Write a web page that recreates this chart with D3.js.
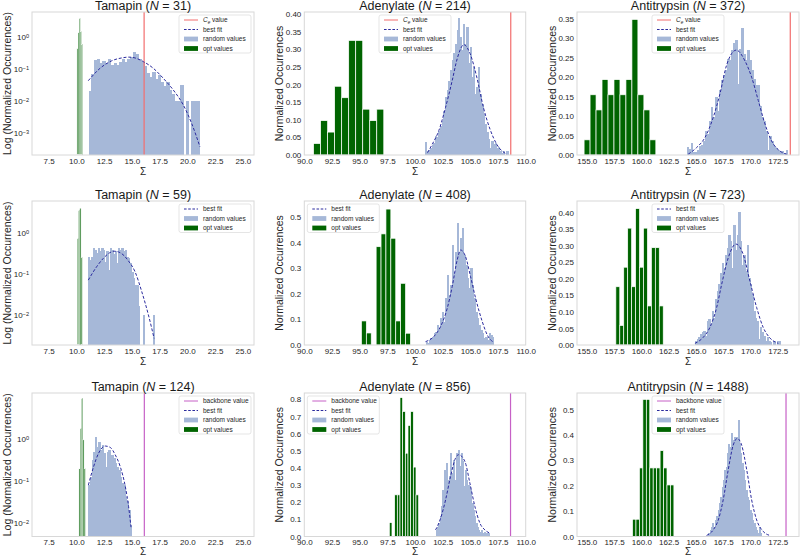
<!DOCTYPE html>
<html>
<head>
<meta charset="utf-8">
<script src="https://cdn.jsdelivr.net/npm/d3@7"></script>
<style>
  body { margin: 0; background: #fff; }
  svg { font-family: "Liberation Sans", Arial, sans-serif; }
</style>
</head>
<body>
<div id="chart"></div>
<script>
// ---- data ----
const proteins = ["Tamapin", "Adenylate", "Antitrypsin"];
const sampleN = [[31, 214, 372], [59, 408, 723], [124, 856, 1488]];

const xLimits = [[6, 26], [90, 110], [154.1, 174.45]];
const xTickVals = [
  [7.5, 10, 12.5, 15, 17.5, 20, 22.5, 25],
  [90, 92.5, 95, 97.5, 100, 102.5, 105, 107.5, 110],
  [155, 157.5, 160, 162.5, 165, 167.5, 170, 172.5]
];
const yLimits = [
  [[2.05e-4, 6.04], [0, 0.4057], [0, 0.368]],
  [[1.86e-3, 6.03], [0, 0.5625], [0, 0.435]],
  [[4.8e-3, 12.4], [0, 0.837], [0, 0.565]]
];
const yTickVals = [
  [[1, 0.1, 0.01, 0.001], [0, 0.05, 0.1, 0.15, 0.2, 0.25, 0.3, 0.35, 0.4], [0, 0.05, 0.1, 0.15, 0.2, 0.25, 0.3, 0.35]],
  [[1, 0.1, 0.01], [0, 0.1, 0.2, 0.3, 0.4, 0.5], [0, 0.05, 0.1, 0.15, 0.2, 0.25, 0.3, 0.35, 0.4]],
  [[1, 0.1, 0.01], [0, 0.1, 0.2, 0.3, 0.4, 0.5, 0.6, 0.7, 0.8], [0, 0.1, 0.2, 0.3, 0.4, 0.5]]
];
const yTickFmt = [[null, ".2f", ".2f"], [null, ".1f", ".2f"], [null, ".1f", ".1f"]];

// vertical reference values (row 1: C_e, row 3: backbone)
const ceValues = [16.1, 108.65, 173.65];
const backboneValues = [16.12, 108.63, 173.26];

// histograms: [first bin edge, bin width] + normalized heights
const tam31OptBin = [10.05, 0.1];
const tam31Opt = [0.45, 1.4, 3.9, 1.5, 0.6];
const tam31RandBin = [11.1, 0.25];
const tam31Rand = [0.021, 0.07, 0.19, 0.2, 0.15, 0.18, 0.15, 0.2, 0.13, 0.15, 0.13, 0.17, 0.2, 0.17, 0.2, 0.23, 0.34, 0.29, 0.21, 0.17,
  0.12, 0.075, 0.055, 0.08, 0.05, 0.065, 0.04, 0.03, 0.04, 0.022, 0.017, 0.01, 0.01, 0.032, 0, 0.01, 0, 0.01, 0.01, 0.01];
const tam31FitX = [11.07, 12.13, 13.18, 14.2, 14.7, 15.2, 16.03, 16.93, 17.83, 18.73, 19.63, 20.38, 21.13];
const tam31FitY = [0.043, 0.105, 0.18, 0.225, 0.235, 0.225, 0.17, 0.105, 0.051, 0.022, 0.0075, 0.002, 0.00037];

const ade214OptBin = [90.84, 0.634];
const ade214Opt = [0.0325, 0.0975, 0.065, 0.195, 0.1625, 0.325, 0.325, 0.13, 0.0975, 0.13];
const ade214RandBin = [100.9, 0.15];
const ade214Rand = [0.038, 0.01, 0.015, 0.02, 0.028, 0.033, 0.054, 0.05, 0.069, 0.083, 0.097, 0.126, 0.164, 0.183, 0.211, 0.24, 0.269, 0.288, 0.316, 0.354,
  0.388, 0.335, 0.297, 0.373, 0.316, 0.364, 0.26, 0.307, 0.221, 0.25, 0.173, 0.192, 0.25, 0.173, 0.145, 0.116, 0.088, 0.064, 0.045, 0.02,
  0.04, 0.03, 0.033, 0.02, 0.024, 0.01, 0.005, 0.01, 0, 0.01];
const ade214FitX = [101.13, 101.55, 102.15, 102.76, 103.36, 103.81, 104.42, 104.97, 105.58, 106.18, 106.78, 107.39, 108.3];
const ade214FitY = [0.0066, 0.03, 0.069, 0.135, 0.211, 0.273, 0.313, 0.288, 0.221, 0.135, 0.073, 0.03, 0.002];

const ant372OptBin = [154.75, 0.548];
const ant372Opt = [0.039, 0.155, 0.116, 0.194, 0.155, 0.194, 0.155, 0.194, 0.349, 0.155, 0.116, 0.039];
const ant372RandBin = [164.15, 0.185];
const ant372Rand = [0.021, 0.015, 0.032, 0.007, 0.007, 0.013, 0.023, 0.027, 0.036, 0.062, 0.054, 0.088, 0.123, 0.097, 0.149, 0.114, 0.166, 0.192, 0.205, 0.218,
  0.248, 0.244, 0.27, 0.287, 0.296, 0.183, 0.274, 0.326, 0.261, 0.244, 0.27, 0.244, 0.218, 0.196, 0.179, 0.179, 0.127, 0.097, 0.088, 0.062,
  0.013, 0.049, 0.036, 0.023, 0.019, 0.013, 0.009, 0.01, 0.004, 0.013];
const ant372FitX = [164.29, 165.06, 165.83, 166.59, 167.2, 167.82, 168.7, 169.5, 170.11, 170.72, 171.33, 171.94, 172.71, 173.32];
const ant372FitY = [0.002, 0.019, 0.045, 0.097, 0.157, 0.232, 0.27, 0.242, 0.2, 0.14, 0.08, 0.036, 0.01, 0.002];

const tam59OptBin = [10.08, 0.113];
const tam59Opt = [0.74, 3.6, 4.0, 0.26];
const tam59RandBin = [11.05, 0.15];
const tam59Rand = [0.26, 0.22, 0.26, 0.42, 0.39, 0.33, 0.42, 0.36, 0.42, 0.39, 0.2, 0.36, 0.125, 0.42, 0.39, 0.3, 0.36, 0.19, 0.42, 0.39,
  0.42, 0.36, 0.39, 0.26, 0.24, 0.19, 0.114, 0.079, 0.054, 0.054, 0.017, 0, 0, 0.01, 0, 0, 0, 0, 0, 0.01];
const tam59FitX = [11.07, 11.82, 12.42, 13.0, 13.4, 13.8, 14.3, 14.68, 15.28, 15.89, 16.49, 17.0];
const tam59FitY = [0.071, 0.15, 0.24, 0.33, 0.36, 0.345, 0.28, 0.21, 0.114, 0.037, 0.01, 0.0027];

const ade408OptBin = [95.16, 0.443];
const ade408Opt = [0.094, 0.047, 0, 0.384, 0.434, 0.531, 0.417, 0.094, 0.241, 0.046];
const ade408RandBin = [100.95, 0.15];
const ade408Rand = [0.013, 0.007, 0.02, 0.026, 0.033, 0.046, 0.052, 0.078, 0.065, 0.104, 0.13, 0.091, 0.182, 0.273, 0.195, 0.234, 0.39, 0.286, 0.365, 0.475,
  0.365, 0.417, 0.456, 0.352, 0.313, 0.26, 0.221, 0.3, 0.234, 0.182, 0.13, 0.104, 0.078, 0.059, 0.046, 0.026, 0.033, 0.02, 0.046, 0.039, 0.033];
const ade408FitX = [100.95, 101.7, 102.31, 102.91, 103.36, 103.81, 104.12, 104.57, 105.02, 105.48, 106.08, 106.53, 107.13];
const ade408FitY = [0.013, 0.033, 0.072, 0.143, 0.228, 0.332, 0.371, 0.345, 0.267, 0.182, 0.091, 0.039, 0.01];

const ant723OptBin = [157.66, 0.362];
const ant723Opt = [0.176, 0.059, 0.235, 0.353, 0.176, 0.412, 0.235, 0.353, 0.118, 0.294, 0.294, 0.118];
const ant723RandBin = [164.91, 0.153];
const ant723Rand = [0.013, 0.018, 0.023, 0.033, 0.038, 0.043, 0.028, 0.073, 0.078, 0.063, 0.103, 0.083, 0.138, 0.163, 0.183, 0.218, 0.248, 0.233, 0.273, 0.293,
  0.333, 0.313, 0.233, 0.363, 0.288, 0.333, 0.403, 0.313, 0.243, 0.273, 0.223, 0.303, 0.203, 0.183, 0.153, 0.103, 0.083, 0.073, 0.018, 0.053,
  0.038, 0.028, 0.013, 0.023, 0.013, 0.008, 0, 0.013, 0, 0.013, 0.013];
const ant723FitX = [164.91, 165.67, 166.28, 166.9, 167.36, 167.96, 168.67, 169.34, 169.95, 170.57, 171.17, 171.79, 172.55];
const ant723FitY = [0.005, 0.023, 0.053, 0.113, 0.183, 0.263, 0.305, 0.273, 0.193, 0.113, 0.053, 0.021, 0.005];

const tam124OptBin = [10.23, 0.115];
const tam124Opt = [0.2, 1.8, 9.3, 0.95, 0.2];
const tam124RandBin = [11.08, 0.15];
const tam124Rand = [0.08, 0.127, 0.32, 0.5, 1.1, 0.66, 0.86, 0.55, 0.7, 0.46, 0.22, 0.5, 0.55, 0.42, 0.42, 0.35, 0.27, 0.22, 0.18, 0.127,
  0.088, 0.08, 0.042, 0.033, 0.02, 0.009];
const tam124FitX = [11.08, 11.55, 12.0, 12.6, 13.05, 13.5, 13.95, 14.41, 14.7, 14.92];
const tam124FitY = [0.08, 0.22, 0.46, 0.68, 0.63, 0.42, 0.22, 0.073, 0.025, 0.008];

const ade856OptBin = [97.68, 0.241];
const ade856Opt = [0.081, 0, 0.243, 0.243, 0.81, 0.729, 0.486, 0.648, 0.729, 0.405, 0.243];
const ade856RandBin = [101.86, 0.1205];
const ade856Rand = [0.038, 0.058, 0.077, 0.117, 0.175, 0.272, 0.389, 0.311, 0.428, 0.33, 0.35, 0.487, 0.37, 0.448, 0.33, 0.487, 0.467, 0.506, 0.409, 0.487,
  0.438, 0.292, 0.389, 0.33, 0.3, 0.292, 0.272, 0.195, 0.156, 0.117, 0.077, 0.058, 0.038, 0.029, 0.038, 0.019, 0.029, 0.019, 0.019, 0.023];
const ade856FitX = [101.86, 102.31, 102.76, 103.21, 103.66, 103.95, 104.51, 104.96, 105.41, 105.87, 106.32, 106.77];
const ade856FitY = [0.038, 0.106, 0.213, 0.35, 0.457, 0.477, 0.437, 0.311, 0.175, 0.077, 0.038, 0.019];

const ant1488OptBin = [159.19, 0.316];
const ant1488Opt = [0.068, 0.068, 0.27, 0.54, 0.54, 0.27, 0.27, 0.27, 0.338, 0.27, 0.203, 0.203];
const ant1488RandBin = [166.13, 0.1225];
const ant1488Rand = [0.013, 0.026, 0.039, 0.052, 0.039, 0.065, 0.079, 0.105, 0.131, 0.157, 0.196, 0.222, 0.262, 0.275, 0.327, 0.366, 0.353, 0.406, 0.379, 0.393,
  0.366, 0.393, 0.458, 0.366, 0.327, 0.288, 0.262, 0.222, 0.183, 0.157, 0.144, 0.105, 0.092, 0.065, 0.052, 0.039, 0.026, 0.013, 0.039, 0.013];
const ant1488FitX = [165.98, 166.59, 167.05, 167.5, 167.96, 168.42, 168.79, 169.19, 169.66, 170.11, 170.57, 171.17, 171.79];
const ant1488FitY = [0.004, 0.026, 0.065, 0.144, 0.262, 0.36, 0.386, 0.36, 0.262, 0.144, 0.065, 0.02, 0.004];

// ---- layout / style ----
const W = 800, H = 556;
const colLeft = [32, 304.3, 577], colWidth = [222, 221.4, 222];
const rowTop = [12, 201, 393], rowHeight = [143, 144, 143.5];
const sigmaOffset = [20, 20, 18];
const legendPos = [["ur", "uc", "uc"], ["ur", "ul", "uc"], ["ur", "ul", "uc"]];

const RAND = "#a6b8d8", OPT = "#006400", FIT = "#2b2b9e";
const CE_COLOR = "#f26d6d", BB_COLOR = "#c661c6";
const TXT = "#262626";

const histSets = [
  [[tam31OptBin, tam31Opt, tam31RandBin, tam31Rand, tam31FitX, tam31FitY],
   [ade214OptBin, ade214Opt, ade214RandBin, ade214Rand, ade214FitX, ade214FitY],
   [ant372OptBin, ant372Opt, ant372RandBin, ant372Rand, ant372FitX, ant372FitY]],
  [[tam59OptBin, tam59Opt, tam59RandBin, tam59Rand, tam59FitX, tam59FitY],
   [ade408OptBin, ade408Opt, ade408RandBin, ade408Rand, ade408FitX, ade408FitY],
   [ant723OptBin, ant723Opt, ant723RandBin, ant723Rand, ant723FitX, ant723FitY]],
  [[tam124OptBin, tam124Opt, tam124RandBin, tam124Rand, tam124FitX, tam124FitY],
   [ade856OptBin, ade856Opt, ade856RandBin, ade856Rand, ade856FitX, ade856FitY],
   [ant1488OptBin, ant1488Opt, ant1488RandBin, ant1488Rand, ant1488FitX, ant1488FitY]]
];

const svg = d3.select("#chart").append("svg")
  .attr("width", W).attr("height", H);

function toBins(spec, vals) {
  return vals.map((v, i) => ({ x0: spec[0] + i * spec[1], x1: spec[0] + (i + 1) * spec[1], v }))
    .filter(d => d.v > 0);
}

for (let r = 0; r < 3; r++) {
  for (let c = 0; c < 3; c++) {
    const [optBin, opt, randBin, rand, fitX, fitY] = histSets[r][c];
    const isLog = c === 0;
    const w = colWidth[c], h = rowHeight[r];
    const g = svg.append("g").attr("transform", `translate(${colLeft[c]},${rowTop[r]})`);

    const x = d3.scaleLinear().domain(xLimits[c]).range([0, w]);
    const y = (isLog ? d3.scaleLog() : d3.scaleLinear()).domain(yLimits[r][c]).range([h, 0]);

    const clipId = `clip-${r}-${c}`;
    g.append("clipPath").attr("id", clipId)
      .append("rect").attr("width", w).attr("height", h);
    const plot = g.append("g").attr("clip-path", `url(#${clipId})`);

    // random values
    plot.selectAll(".rand").data(toBins(randBin, rand)).join("rect")
      .attr("class", "rand")
      .attr("x", d => x(d.x0))
      .attr("width", d => x(d.x1) - x(d.x0) + 0.6)
      .attr("y", d => y(d.v))
      .attr("height", d => h - y(d.v))
      .attr("fill", RAND)
      .attr("shape-rendering", "crispEdges");

    // opt values
    plot.selectAll(".opt").data(toBins(optBin, opt)).join("rect")
      .attr("class", "opt")
      .attr("x", d => x(d.x0))
      .attr("width", d => x(d.x1) - x(d.x0))
      .attr("y", d => y(d.v))
      .attr("height", d => h - y(d.v))
      .attr("fill", isLog ? "#2f7f2f" : OPT)
      .attr("fill-opacity", isLog ? 0.85 : 1)
      .attr("stroke", "#fff")
      .attr("stroke-width", isLog ? 0.3 : 0.7);

    // reference line
    let ref = null;
    if (r === 0) ref = { v: ceValues[c], color: CE_COLOR, label: "ce" };
    if (r === 2) ref = { v: backboneValues[c], color: BB_COLOR, label: "backbone value" };
    if (ref) {
      plot.append("line")
        .attr("x1", x(ref.v)).attr("x2", x(ref.v))
        .attr("y1", 0).attr("y2", h)
        .attr("stroke", ref.color).attr("stroke-width", 1.2);
    }

    // best fit
    const line = d3.line().x(d => x(d[0])).y(d => y(d[1])).curve(d3.curveMonotoneX);
    plot.append("path")
      .datum(fitX.map((v, i) => [v, fitY[i]]))
      .attr("d", line)
      .attr("fill", "none")
      .attr("stroke", FIT)
      .attr("stroke-width", 1)
      .attr("stroke-dasharray", "3,1.8");

    // frame
    g.append("rect").attr("width", w).attr("height", h)
      .attr("fill", "none").attr("stroke", "#d8d8d8").attr("stroke-width", 1);

    // axes
    const xa = g.append("g").attr("transform", `translate(0,${h})`)
      .call(d3.axisBottom(x).tickValues(xTickVals[c]).tickSize(0).tickPadding(3).tickFormat(d3.format(".1f")));
    const ya = g.append("g")
      .call(d3.axisLeft(y).tickValues(yTickVals[r][c]).tickSize(0).tickPadding(3)
        .tickFormat(isLog ? () => "" : d3.format(yTickFmt[r][c])));
    [xa, ya].forEach(a => {
      a.attr("font-family", null).attr("font-size", null);
      a.select(".domain").remove();
      a.selectAll(".tick text").attr("font-size", 8).attr("fill", TXT);
    });
    if (isLog) {
      ya.selectAll(".tick text").each(function (d) {
        const e = Math.round(Math.log10(d));
        const t = d3.select(this);
        t.append("tspan").text("10");
        t.append("tspan").attr("dy", "-0.45em").attr("font-size", "0.7em")
          .text(e < 0 ? "\u2212" + (-e) : String(e));
      });
    }

    // title
    const title = g.append("text").attr("x", w / 2).attr("y", -2.5)
      .attr("text-anchor", "middle").attr("font-size", 12.5).attr("fill", "#1a1a1a");
    title.append("tspan").text(proteins[c] + " (");
    title.append("tspan").attr("font-style", "italic").text("N");
    title.append("tspan").text(" = " + sampleN[r][c] + ")");

    // axis labels
    g.append("text")
      .attr("transform", `translate(-25,${h / 2}) rotate(-90)`)
      .attr("text-anchor", "middle").attr("dy", "0.35em")
      .attr("font-size", 10.5).attr("fill", TXT)
      .text(isLog ? "Log (Normalized Occurrences)" : "Normalized Occurrences");
    g.append("text").attr("x", w / 2).attr("y", h + sigmaOffset[r])
      .attr("text-anchor", "middle").attr("font-size", 10).attr("fill", TXT)
      .text("\u03A3");

    // legend
    const items = [];
    if (ref) items.push({ kind: "line", color: ref.color, label: ref.label });
    items.push({ kind: "dash", color: FIT, label: "best fit" });
    items.push({ kind: "patch", color: RAND, label: "random values" });
    items.push({ kind: "patch", color: OPT, label: "opt values" });
    const LW = 72, rowH = 9.5;
    const pos = legendPos[r][c];
    const lx = pos === "ur" ? w - 3 - LW : pos === "ul" ? 3 : w / 2 - LW / 2;
    const lg = g.append("g").attr("transform", `translate(${lx},3)`);
    lg.append("rect").attr("width", LW).attr("height", items.length * rowH)
      .attr("rx", 2).attr("fill", "#fff").attr("fill-opacity", 0.85)
      .attr("stroke", "#d4d4d4").attr("stroke-width", 0.6);
    items.forEach((it, i) => {
      const cy = 5 + i * rowH;
      if (it.kind === "patch") {
        lg.append("rect").attr("x", 5).attr("y", cy - 2.4).attr("width", 14).attr("height", 4.8)
          .attr("fill", it.color);
      } else {
        lg.append("line").attr("x1", 5).attr("x2", 19).attr("y1", cy).attr("y2", cy)
          .attr("stroke", it.color).attr("stroke-width", 1)
          .attr("stroke-dasharray", it.kind === "dash" ? "2.6,1.6" : null);
      }
      const t = lg.append("text").attr("x", 24).attr("y", cy).attr("dy", "0.35em")
        .attr("font-size", 6.5).attr("fill", TXT);
      if (it.label === "ce") {
        t.append("tspan").attr("font-style", "italic").text("C");
        t.append("tspan").attr("font-style", "italic").attr("font-size", "0.7em").attr("dy", "0.3em").text("e");
        t.append("tspan").attr("dy", "-0.3em").text(" value");
      } else {
        t.text(it.label);
      }
    });
  }
}
</script>
</body>
</html>
